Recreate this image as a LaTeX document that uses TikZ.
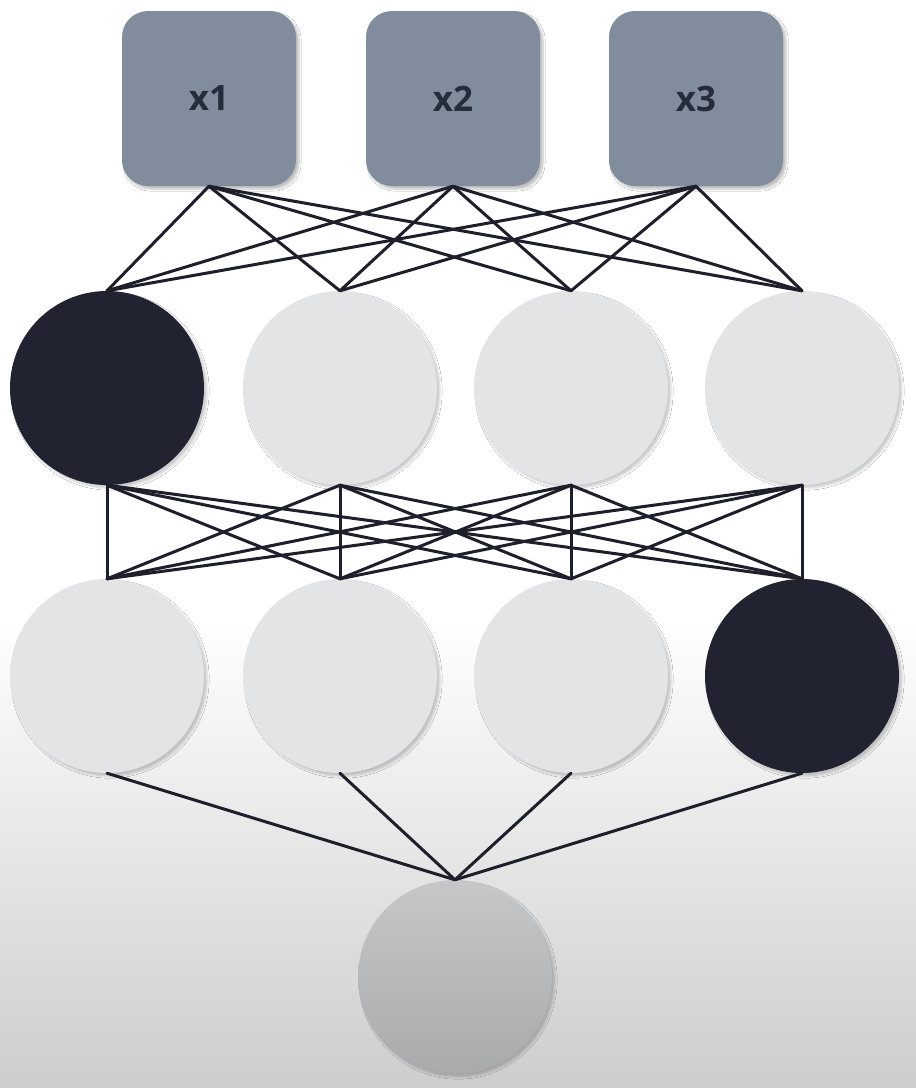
\documentclass[tikz,border=0pt]{standalone}
\usepackage{fontspec}
\setmainfont{Open Sans}
\usetikzlibrary{shadows.blur}
\definecolor{boxfill}{HTML}{818D9D}
\definecolor{boxtext}{HTML}{252C3B}
\definecolor{lightn}{HTML}{E2E4E6}
\definecolor{darkn}{HTML}{222330}
\definecolor{edgec}{HTML}{1E1F2B}
\definecolor{outtop}{HTML}{C6C7C9}
\definecolor{outbot}{HTML}{A9AAAC}
\definecolor{bgbot}{HTML}{CDCDCD}
\tikzset{
  inbox/.style={rectangle, rounded corners=26pt, fill=boxfill, minimum width=174pt, minimum height=175pt,
    text=boxtext, font=\fontsize{35}{40}\selectfont\bfseries, inner sep=0pt,
    blur shadow={shadow xshift=3pt, shadow yshift=-3pt, shadow blur steps=6, shadow opacity=25}},
  neuron/.style={circle, minimum size=194pt, inner sep=0pt,
    blur shadow={shadow xshift=3pt, shadow yshift=-3pt, shadow blur steps=6, shadow opacity=20}},
  lightneuron/.style={neuron, fill=lightn},
  darkneuron/.style={neuron, fill=darkn},
  outneuron/.style={neuron, top color=outtop, bottom color=outbot},
  edge/.style={draw=edgec, line width=3pt, line cap=round}
}
\begin{document}
\begin{tikzpicture}[x=1pt, y=-1pt]
\useasboundingbox (0,0) rectangle (916,1088);
\fill[white] (0,0) rectangle (916,620);
\shade[top color=white, bottom color=bgbot] (0,619) rectangle (916,1088);
% input boxes
\node[inbox] (x1) at (209,98.5) {x1};
\node[inbox] (x2) at (453,98.5) {x2};
\node[inbox] (x3) at (696,98.5) {x3};
% hidden layer 1
\node[darkneuron] (a1) at (107,388) {};
\node[lightneuron] (a2) at (340,388) {};
\node[lightneuron] (a3) at (571,388) {};
\node[lightneuron] (a4) at (802,388) {};
% hidden layer 2
\node[lightneuron] (b1) at (107,676) {};
\node[lightneuron] (b2) at (340,676) {};
\node[lightneuron] (b3) at (571,676) {};
\node[darkneuron] (b4) at (802,676) {};
% output
\node[outneuron] (o) at (455,977) {};
% edges
\foreach \i in {x1,x2,x3}{
  \foreach \j in {a1,a2,a3,a4}{
    \draw[edge] (\i.south) -- (\j.north);
  }
}
\foreach \i in {a1,a2,a3,a4}{
  \foreach \j in {b1,b2,b3,b4}{
    \draw[edge] (\i.south) -- (\j.north);
  }
}
\foreach \i in {b1,b2,b3,b4}{
  \draw[edge] (\i.south) -- (o.north);
}
\end{tikzpicture}
\end{document}
